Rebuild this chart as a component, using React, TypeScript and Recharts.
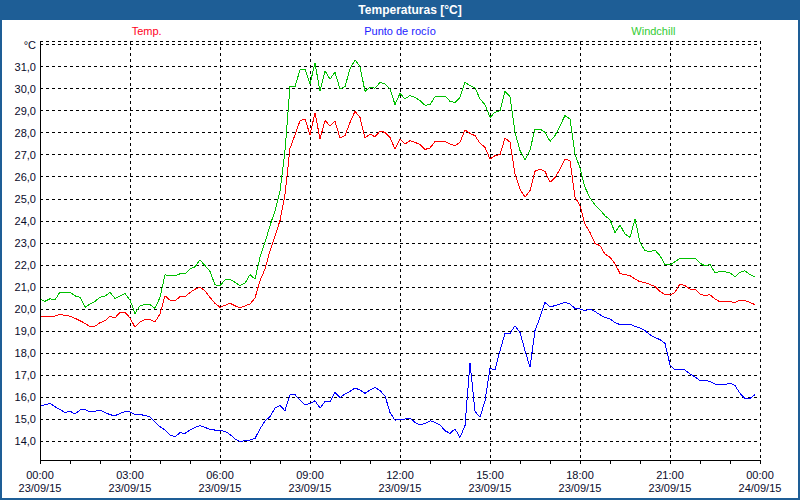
import React from 'react';
import {
  CartesianGrid,
  Line,
  LineChart,
  XAxis,
  YAxis,
} from 'recharts';

// samples every 10 minutes from 00:00 on 23/09/15
const SAMPLE_STEP_MIN = 10;

const temp: number[] = [
  19.65, 19.67, 19.68, 19.68, 19.77, 19.7, 19.68, 19.58, 19.47, 19.35,
  19.2, 19.22, 19.38, 19.47, 19.67, 19.6, 19.85, 19.85, 19.6, 19.17,
  19.42, 19.52, 19.52, 19.42, 19.77, 20.6, 20.4, 20.38, 20.56, 20.56,
  20.75, 20.9, 21.0, 20.83, 20.53, 20.26, 20.08,
  20.17, 20.26, 20.15, 20.05, 20.14, 20.23, 20.5, 21.29, 21.82, 22.65,
  23.33, 24.02, 25.2, 27.3, 27.92, 28.56, 28.64, 27.92, 28.92, 27.73,
  28.56, 28.33, 28.53, 27.77, 27.88, 28.48, 28.98, 28.71, 27.77, 27.95,
  27.83, 28.08, 28.03, 27.8, 27.27, 27.73,
  27.5, 27.65, 27.58, 27.47, 27.25, 27.32, 27.61, 27.62, 27.62, 27.5,
  27.42, 27.58, 28.14, 27.98, 27.88, 27.53, 27.35, 26.82, 26.97, 27.02,
  27.77, 27.58, 26.14, 25.45, 25.08, 25.38, 26.26, 26.36, 26.26, 25.76,
  25.98, 26.36, 26.82, 26.74, 25.08, 24.7,
  23.85, 23.48, 22.98, 22.88, 22.5, 22.35, 22.05, 21.62, 21.56, 21.52,
  21.36, 21.24, 21.21, 21.11, 21.03, 20.8, 20.65, 20.64, 20.76, 21.14,
  21.06, 20.91, 20.91, 20.68, 20.61, 20.65, 20.45, 20.33, 20.33, 20.33,
  20.3, 20.41, 20.38, 20.3, 20.2,
];

const dewPoint: number[] = [
  15.59, 15.65, 15.71, 15.56, 15.44, 15.29, 15.36, 15.23, 15.41, 15.44,
  15.32, 15.36, 15.41, 15.3, 15.2, 15.15, 15.26, 15.33, 15.33, 15.21,
  15.21, 15.16, 15.1, 14.88, 14.65, 14.5, 14.27, 14.2, 14.38, 14.35,
  14.5, 14.62, 14.7, 14.62, 14.53, 14.5, 14.47,
  14.45, 14.3, 14.1, 13.98, 14.02, 14.05, 14.12, 14.55, 14.92, 15.11,
  15.5, 15.61, 15.38, 16.11, 16.11, 15.86, 15.65, 15.71, 15.83, 15.5,
  15.79, 15.79, 16.21, 15.98, 16.14, 16.26, 16.41, 16.32, 16.17, 16.32,
  16.44, 16.29, 16.06, 15.3, 14.95, 15.0,
  15.0, 15.05, 14.85, 14.74, 14.8, 14.92, 14.85, 14.74, 14.47, 14.35,
  14.55, 14.17, 14.7, 17.55, 15.35, 15.08, 15.83, 17.3, 17.23, 18.11,
  18.89, 18.89, 19.24, 18.94, 18.11, 17.35, 19.02, 19.62, 20.3, 20.11,
  20.15, 20.23, 20.3, 20.23, 20.03, 20.0,
  19.92, 20.0, 19.89, 19.74, 19.62, 19.55, 19.39, 19.29, 19.32, 19.32,
  19.21, 19.14, 19.02, 18.83, 18.71, 18.61, 18.44, 17.47, 17.23, 17.23,
  17.23, 17.05, 16.92, 16.74, 16.77, 16.71, 16.59, 16.56, 16.56, 16.64,
  16.52, 16.17, 15.94, 15.94, 16.11,
];

const windchill: number[] = [
  20.44, 20.35, 20.47, 20.42, 20.77, 20.77, 20.77, 20.6, 20.53, 20.08,
  20.23, 20.35, 20.53, 20.59, 20.76, 20.48, 20.6, 20.71, 20.41, 19.8,
  20.15, 20.2, 20.2, 20.03, 20.53, 21.55, 21.53, 21.52, 21.6, 21.6,
  21.82, 21.92, 22.23, 21.97, 21.71, 21.1, 21.06,
  21.32, 21.36, 21.21, 21.06, 21.18, 21.56, 21.36, 22.35, 23.03, 23.79,
  24.47, 25.38, 27.2, 30.11, 30.11, 30.86, 30.91, 30.23, 31.18, 29.89,
  30.83, 30.45, 30.76, 30.0, 30.11, 30.91, 31.32, 31.02, 29.89, 30.08,
  30.03, 30.3, 30.23, 30.0, 29.29, 29.8,
  29.55, 29.7, 29.62, 29.47, 29.26, 29.29, 29.65, 29.65, 29.67, 29.44,
  29.39, 29.62, 30.3, 30.15, 30.05, 29.55, 29.29, 28.71, 28.94, 29.02,
  29.89, 29.65, 28.03, 27.2, 26.79, 27.23, 28.18, 28.18, 28.03, 27.62,
  27.88, 28.33, 28.79, 28.64, 27.05, 26.4,
  25.53, 25.05, 24.74, 24.5, 24.24, 24.05, 23.48, 23.82, 23.41, 23.26,
  24.09, 23.03, 22.65, 22.61, 22.68, 22.42, 22.02, 22.0, 22.15, 22.3,
  22.3, 22.3, 22.32, 22.08, 21.97, 22.02, 21.64, 21.71, 21.7, 21.64,
  21.47, 21.67, 21.74, 21.56, 21.47,
];

const seriesNames = ['Temp.', 'Punto de rocío', 'Windchill'];
const seriesKeys = ['temp', 'dew', 'wind'];
const seriesColors = ['#FF0000', '#0000FF', '#00C000'];
const legendColors = ['#FF0022', '#2222FF', '#33CC33'];

const yTicks = [14, 15, 16, 17, 18, 19, 20, 21, 22, 23, 24, 25, 26, 27, 28, 29, 30, 31, 32];
const xTickMinutes = [
  0, 60, 120, 180, 240, 300, 360, 420, 480, 540, 600, 660, 720,
  780, 840, 900, 960, 1020, 1080, 1140, 1200, 1260, 1320, 1380, 1440,
];
const xLabelMinutes = [0, 180, 360, 540, 720, 900, 1080, 1260, 1440];
const xLabelTimes = ['00:00', '03:00', '06:00', '09:00', '12:00', '15:00', '18:00', '21:00', '00:00'];
const xLabelDates = ['23/09/15', '23/09/15', '23/09/15', '23/09/15', '23/09/15', '23/09/15', '23/09/15', '23/09/15', '24/09/15'];

const Y_DOMAIN: [number, number] = [13.14, 32.18];
const X_DOMAIN: [number, number] = [0, 1440];

const FONT = '"Liberation Sans", Arial, sans-serif';
const FRAME_BLUE = '#1E5E96';
const TEXT_COLOR = '#0a0a2a';

const data = temp.map((t, i) => ({
  minute: i * SAMPLE_STEP_MIN,
  temp: t,
  dew: dewPoint[i],
  wind: windchill[i],
}));

function TimeTick(props: any) {
  const { x, y, payload } = props;
  const idx = xLabelMinutes.indexOf(payload.value);
  if (idx < 0) return <g />;
  return (
    <g>
      <text x={x} y={y + 13} textAnchor="middle" fill={TEXT_COLOR} fontSize={11} fontFamily={FONT}>
        {xLabelTimes[idx]}
      </text>
      <text x={x} y={y + 26} textAnchor="middle" fill={TEXT_COLOR} fontSize={11} fontFamily={FONT}>
        {xLabelDates[idx]}
      </text>
    </g>
  );
}

const formatY = (v: number) => (v === 32 ? '°C' : v.toFixed(1).replace('.', ','));

export default function App() {
  return (
    <div
      style={{
        position: 'absolute',
        left: 0,
        top: 0,
        width: 800,
        height: 500,
        background: '#fff',
        fontFamily: FONT,
      }}
    >
      <style>{`
        .recharts-cartesian-grid line,
        .recharts-cartesian-axis-line,
        .recharts-cartesian-axis-tick-line,
        .recharts-line-curve { shape-rendering: crispEdges; }
      `}</style>
      <div
        style={{
          height: 20,
          background: FRAME_BLUE,
          color: '#fff',
          fontWeight: 'bold',
          fontSize: 12,
          lineHeight: '20px',
          textAlign: 'center',
          paddingLeft: 20,
        }}
      >
        Temperaturas [°C]
      </div>
      <div
        style={{
          position: 'relative',
          width: 800,
          height: 480,
          boxSizing: 'border-box',
          borderLeft: `2px solid ${FRAME_BLUE}`,
          borderRight: `2px solid ${FRAME_BLUE}`,
          borderBottom: `2px solid ${FRAME_BLUE}`,
        }}
      >
        <div
          style={{
            position: 'absolute',
            left: 18,
            width: 760,
            top: 5,
            display: 'flex',
            fontSize: 11,
          }}
        >
          {seriesNames.map((name, i) => (
            <div key={name} style={{ flex: 1, textAlign: 'center', color: legendColors[i] }}>
              {name}
            </div>
          ))}
        </div>
        <LineChart
          width={796}
          height={478}
          data={data}
          margin={{ top: 21, right: 38, bottom: 0, left: 0 }}
        >
          <CartesianGrid
            stroke="#000"
            strokeDasharray="3 3"
            verticalValues={xLabelMinutes}
          />
          <XAxis
            dataKey="minute"
            type="number"
            domain={X_DOMAIN}
            ticks={xTickMinutes}
            interval={0}
            height={38}
            tickSize={4}
            tickMargin={2}
            axisLine={{ stroke: '#000' }}
            tickLine={{ stroke: '#000' }}
            tick={<TimeTick />}
          />
          <XAxis
            xAxisId="top"
            orientation="top"
            type="number"
            domain={X_DOMAIN}
            height={0}
            tick={false}
            tickLine={false}
            axisLine={{ stroke: '#000' }}
          />
          <YAxis
            type="number"
            domain={Y_DOMAIN}
            ticks={yTicks}
            interval={0}
            allowDataOverflow
            width={38}
            tickSize={2}
            tickMargin={2}
            tickLine={false}
            axisLine={{ stroke: '#000' }}
            tickFormatter={formatY}
            tick={{ fill: TEXT_COLOR, fontSize: 11, fontFamily: FONT }}
          />
          <YAxis
            yAxisId="right"
            orientation="right"
            type="number"
            domain={Y_DOMAIN}
            width={0}
            tick={false}
            tickLine={false}
            axisLine={{ stroke: '#000' }}
          />
          {seriesKeys.map((key, i) => (
            <Line
              key={key}
              type="linear"
              dataKey={key}
              name={seriesNames[i]}
              stroke={seriesColors[i]}
              strokeWidth={1}
              dot={false}
              isAnimationActive={false}
            />
          ))}
        </LineChart>
      </div>
    </div>
  );
}
